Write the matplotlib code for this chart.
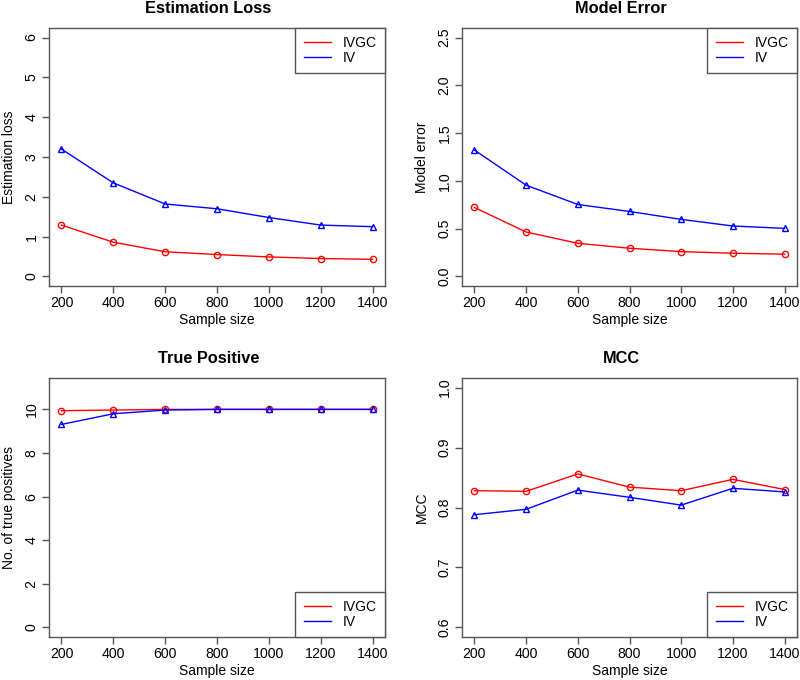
import matplotlib
matplotlib.use("Agg")
import matplotlib.pyplot as plt
import numpy as np

plt.rcParams['font.family'] = ['Liberation Sans', 'DejaVu Sans']

sample_size = [200, 400, 600, 800, 1000, 1200, 1400]

est_loss_ivgc = [1.29, 0.86, 0.62, 0.55, 0.49, 0.45, 0.43]
est_loss_iv = [3.20, 2.35, 1.82, 1.70, 1.48, 1.29, 1.25]

model_err_ivgc = [0.722, 0.465, 0.347, 0.295, 0.260, 0.243, 0.233]
model_err_iv = [1.323, 0.955, 0.753, 0.680, 0.597, 0.528, 0.503]

tp_ivgc = [9.94, 9.97, 10.0, 10.0, 10.0, 10.0, 10.0]
tp_iv = [9.31, 9.80, 9.97, 10.0, 10.0, 10.0, 10.0]

mcc_ivgc = [0.828, 0.827, 0.856, 0.834, 0.828, 0.847, 0.830]
mcc_iv = [0.788, 0.797, 0.829, 0.817, 0.804, 0.832, 0.826]

titles = ["Estimation Loss", "Model Error", "True Positive", "MCC"]
ylabels = ["Estimation loss", "Model error", "No. of true positives", "MCC"]
ylims = [(0, 6), (0, 2.5), (0, 11), (0.6, 1.0)]
yticks = [[0, 1, 2, 3, 4, 5, 6], [0.0, 0.5, 1.0, 1.5, 2.0, 2.5],
          [0, 2, 4, 6, 8, 10], [0.6, 0.7, 0.8, 0.9, 1.0]]
ytick_labels = [["0", "1", "2", "3", "4", "5", "6"],
                ["0.0", "0.5", "1.0", "1.5", "2.0", "2.5"],
                ["0", "2", "4", "6", "8", "10"],
                ["0.6", "0.7", "0.8", "0.9", "1.0"]]
series = [(est_loss_ivgc, est_loss_iv), (model_err_ivgc, model_err_iv),
          (tp_ivgc, tp_iv), (mcc_ivgc, mcc_iv)]
legend_locs = ["upper right", "upper right", "lower right", "lower right"]

W, H = 800, 680
fig = plt.figure(figsize=(8, 6.8), dpi=100)
# axes boxes in pixels (left, top, right, bottom)
boxes = [(49, 28, 385, 286), (462, 28, 797, 286),
         (49, 378, 385, 637), (462, 378, 797, 637)]
spine_col = "#555555"
fs = 10
for i in range(4):
    l, t, r, b = boxes[i]
    ax = fig.add_axes([l / W, 1 - b / H, (r - l) / W, (b - t) / H])
    ivgc, iv = series[i]
    ax.plot(sample_size, ivgc, color="#FF0000", lw=1.0, marker="o", ms=4.5,
            mfc="none", mec="#FF0000", mew=1.0, label="IVGC")
    ax.plot(sample_size, iv, color="#0000FF", lw=1.0, marker="^", ms=5,
            mfc="none", mec="#0000FF", mew=1.0, label="IV")
    xr = 1400 - 200
    ax.set_xlim(200 - 0.04 * xr, 1400 + 0.04 * xr)
    y0, y1 = ylims[i]
    yr = y1 - y0
    ax.set_ylim(y0 - 0.04 * yr, y1 + 0.04 * yr)
    ax.set_xticks(sample_size)
    ax.set_xticklabels([str(s) for s in sample_size], fontsize=10.2)
    ax.set_yticks(yticks[i])
    ax.set_yticklabels(ytick_labels[i], fontsize=10.2, rotation=90, va="center")
    for s in ax.spines.values():
        s.set_color(spine_col)
        s.set_linewidth(1.0)
    ax.tick_params(direction="out", length=5, width=1.0, color=spine_col,
                   pad=2.5)
    ax.set_xlabel("Sample size", fontsize=fs, labelpad=2)
    ax.set_ylabel(ylabels[i], fontsize=fs, labelpad=6)
    ax.set_title(titles[i], fontsize=11.8, fontweight="bold", pad=11, x=0.475)
    leg = ax.legend(loc=legend_locs[i], fontsize=fs, frameon=True,
                    fancybox=False, borderaxespad=0, handlelength=1.95,
                    handletextpad=0.85, borderpad=0.6, labelspacing=0.05,
                    framealpha=1)
    leg.get_frame().set_edgecolor(spine_col)
    leg.get_frame().set_linewidth(1.0)
    for h in leg.get_lines():
        h.set_marker("")

fig.savefig("out.png", dpi=100)
